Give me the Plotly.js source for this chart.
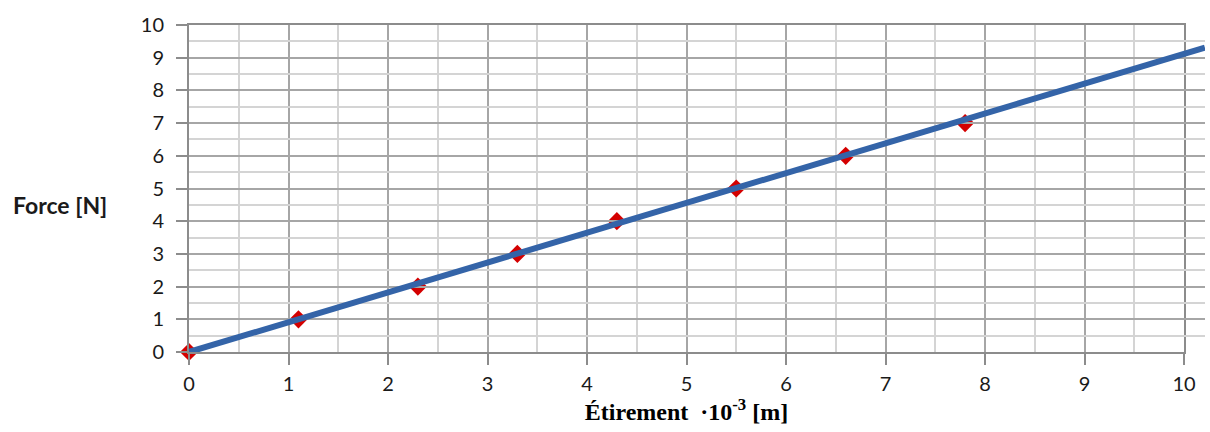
<!DOCTYPE html>
<html><head><meta charset="utf-8">
<script src="https://cdn.plot.ly/plotly-3.0.1.min.js"></script>
<style>body{margin:0;background:#fff}#chart{width:1210px;height:432px}</style>
</head><body><div id="chart"></div>
<script>
const stretch = [0, 1.1, 2.3, 3.3, 4.3, 5.5, 6.6, 7.8];
const force = [0, 1, 2, 3, 4, 5, 6, 7];
const trendX = [0, 10.21];
const trendY = [0, 9.31];
const tickVals = [0,1,2,3,4,5,6,7,8,9,10];

const L = 189, R = 1205, plotRight = 1184;
const dom1 = (plotRight - L) / (R - L);

const traces = [
  {x: stretch, y: force, type: 'scatter', mode: 'markers', xaxis: 'x', yaxis: 'y',
   marker: {symbol: 'diamond', size: 14, color: '#D40000'}, cliponaxis: false, hoverinfo: 'skip'},
  {x: trendX, y: trendY, type: 'scatter', mode: 'lines', xaxis: 'x2', yaxis: 'y',
   line: {color: '#3464A8', width: 6}, hoverinfo: 'skip'}
];

const gridMajor = '#a6a6a6', gridMinor = '#d4d4d4';
const tf = {family: 'Lato, Open Sans, sans-serif', size: 20, color: '#1a1a1a'};
const layout = {
  width: 1210, height: 432,
  margin: {l: L, r: 1210 - R, t: 25, b: 80},
  paper_bgcolor: '#fff', plot_bgcolor: 'rgba(0,0,0,0)',
  showlegend: false,
  font: tf,
  xaxis: {domain: [0, dom1], range: [0, 10], tickvals: tickVals, ticktext: tickVals.map(String),
    anchor: 'y',
    showgrid: true, gridcolor: gridMajor, gridwidth: 2,
    minor: {dtick: 0.5, showgrid: true, gridcolor: gridMinor, gridwidth: 2, ticks: ''},
    showline: true, linecolor: '#8c8c8c', linewidth: 2, mirror: true,
    ticks: 'outside', ticklen: 11, tickwidth: 2, tickcolor: '#8c8c8c',
    zeroline: false, fixedrange: true,
    ticklabelstandoff: 2,
    tickfont: tf,
    title: {text: '<b>Étirement  ·10<sup>-3</sup> [m]</b>', font: {family: 'Liberation Serif, serif', size: 24, color: '#000'}, standoff: 9}
  },
  xaxis2: {domain: [0, 1], range: [0, 10 / dom1], anchor: 'y', visible: false, fixedrange: true,
    showgrid: false, zeroline: false},
  yaxis: {range: [0, 10], tickvals: tickVals, ticktext: tickVals.map(String),
    showgrid: true, gridcolor: gridMajor, gridwidth: 2,
    minor: {dtick: 0.5, showgrid: true, gridcolor: gridMinor, gridwidth: 2, ticks: ''},
    showline: true, linecolor: '#8c8c8c', linewidth: 2, mirror: true,
    ticks: 'outside', ticklen: 11, tickwidth: 2, tickcolor: '#8c8c8c',
    zeroline: false, fixedrange: true,
    ticklabelstandoff: 8,
    tickfont: tf
  },
  annotations: [
    {text: '<b>Force [N]</b>', xref: 'paper', yref: 'paper', x: -(L - 11) / (R - L), xanchor: 'left',
     y: 0.45, yanchor: 'middle', showarrow: false,
     font: {family: 'Lato, Open Sans, sans-serif', size: 23, color: '#1a1a1a'}}
  ]
};
Plotly.newPlot('chart', traces, layout, {displayModeBar: false, staticPlot: true});
</script></body></html>
